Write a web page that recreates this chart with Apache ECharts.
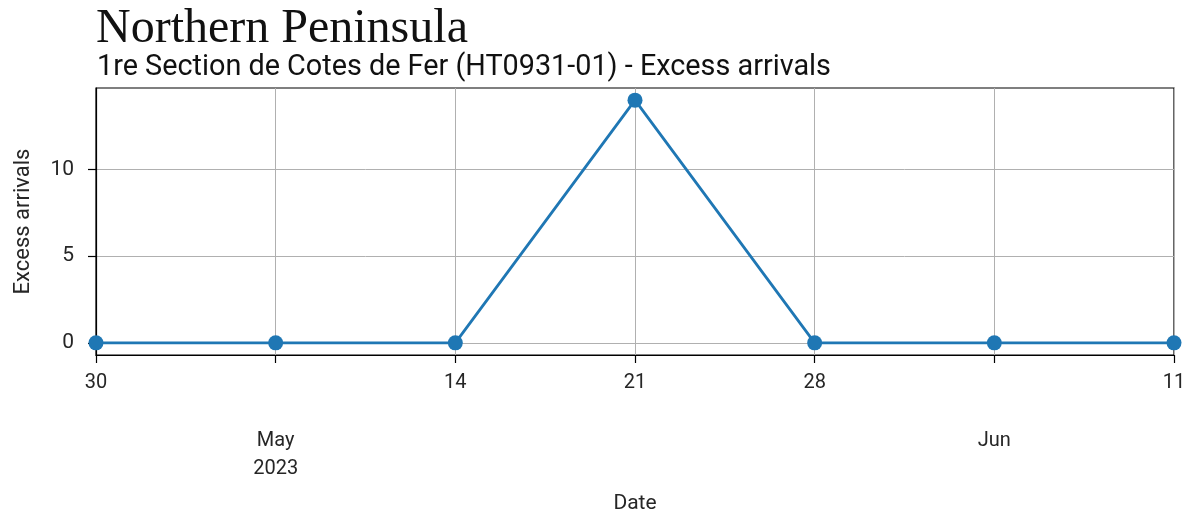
<!DOCTYPE html>
<html>
<head>
<meta charset="utf-8">
<script src="https://cdn.jsdelivr.net/npm/echarts@6/dist/echarts.min.js"></script>
<style>
html,body{margin:0;padding:0;background:#fff;}
#chart{width:1193px;height:519px;}
</style>
</head>
<body>
<div id="chart"></div>
<script>
// ---- data ----
const dates = ['2023-04-30','2023-05-07','2023-05-14','2023-05-21','2023-05-28','2023-06-04','2023-06-11'];
const excessArrivals = [0, 0, 0, 14, 0, 0, 0];
const tickMajorLabels = ['30', '', '14', '21', '28', '', '11'];
const tickMinorLabels = ['', 'May\n2023', '', '', '', 'Jun', ''];
const yTickValues = [0, 5, 10];
const titleText = 'Northern Peninsula';
const subtitleText = '1re Section de Cotes de Fer (HT0931-01) - Excess arrivals';

// ---- build ----
const DAY = 86400000;
const t0 = Date.parse(dates[0] + 'T00:00:00Z');
const dayOffset = d => Math.round((Date.parse(d + 'T00:00:00Z') - t0) / DAY);
const seriesData = dates.map((d, i) => [dayOffset(d), excessArrivals[i]]);
const xMax = dayOffset(dates[dates.length - 1]);

const chart = echarts.init(document.getElementById('chart'), null, {renderer: 'canvas'});
const txt = '#262626';
chart.setOption({
  animation: false,
  backgroundColor: '#fff',
  title: [
    {text: titleText, left: 91, top: 0,
     textStyle: {fontFamily: 'Liberation Serif', fontWeight: 'normal', fontSize: 48, color: '#111'}},
    {text: subtitleText, left: 92, top: 48,
     textStyle: {fontFamily: 'Roboto', fontWeight: 'normal', fontSize: 28.8, color: '#111'}}
  ],
  grid: {left: 96, right: 19, top: 88, bottom: 162, show: true, borderColor: '#000', borderWidth: 1.2, backgroundColor: 'transparent'},
  xAxis: {
    type: 'value', min: 0, max: xMax, interval: 7,
    name: 'Date', nameLocation: 'middle', nameGap: 138,
    nameTextStyle: {fontFamily: 'Roboto', fontSize: 21, color: txt},
    axisLine: {show: true, onZero: false, lineStyle: {color: '#000', width: 1.2}},
    axisTick: {show: true, inside: false, length: 8, lineStyle: {color: '#000', width: 1.2}},
    splitLine: {show: true, lineStyle: {color: '#b0b0b0', width: 1}},
    axisLabel: {
      margin: 14, color: txt, fontFamily: 'Roboto', fontSize: 20,
      showMinLabel: true, showMaxLabel: true,
      formatter: v => {
        const i = Math.round(v / 7);
        if (tickMajorLabels[i]) return '{m|' + tickMajorLabels[i] + '}';
        if (tickMinorLabels[i]) return '{g| }\n' + tickMinorLabels[i].split('\n').map(s => '{m|' + s + '}').join('\n');
        return '';
      },
      rich: {
        m: {fontFamily: 'Roboto', fontSize: 20, color: txt, lineHeight: 28},
        g: {fontSize: 10, lineHeight: 58}
      }
    }
  },
  yAxis: {
    type: 'value', min: -0.7, max: 14.7,
    name: 'Excess arrivals', nameLocation: 'middle', nameGap: 62,
    nameTextStyle: {fontFamily: 'Roboto', fontSize: 22, color: txt},
    axisLine: {show: true, onZero: false, lineStyle: {color: '#000', width: 1.2}},
    axisTick: {show: true, inside: false, length: 8, lineStyle: {color: '#000', width: 1.2}, customValues: yTickValues},
    splitLine: {show: true, lineStyle: {color: '#b0b0b0', width: 1}},
    axisLabel: {margin: 22, color: txt, fontFamily: 'Roboto', fontSize: 21, customValues: yTickValues}
  },
  series: [{
    type: 'line',
    data: seriesData,
    color: '#1f77b4',
    lineStyle: {width: 2.8, color: '#1f77b4'},
    symbol: 'circle', symbolSize: 15,
    itemStyle: {color: '#1f77b4'},
    clip: true
  }]
});
</script>
</body>
</html>
